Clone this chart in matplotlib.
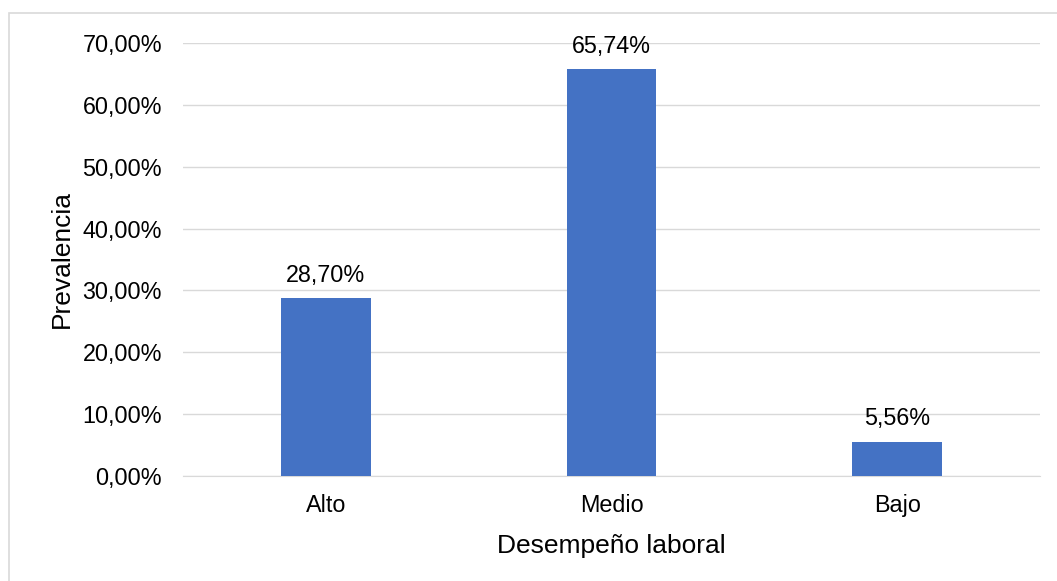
import matplotlib
matplotlib.use("Agg")
import matplotlib.pyplot as plt
from matplotlib.patches import Rectangle

categories = ["Alto", "Medio", "Bajo"]
values = [28.70, 65.74, 5.56]
labels = ["28,70%", "65,74%", "5,56%"]

plt.rcParams['font.family'] = ['Liberation Sans', 'DejaVu Sans']

W, H = 1057, 581
fig = plt.figure(figsize=(W/100, H/100), dpi=100)
fig.patches.append(Rectangle((9/W, -0.1), 1.2, 1 - 13/H + 0.1, transform=fig.transFigure,
                             fill=False, edgecolor='#d9d9d9', linewidth=1.2))

left, right, top, bottom = 183, 1040, 43, 476
ax = fig.add_axes([left/W, 1 - bottom/H, (right-left)/W, (bottom-top)/H])
x = range(len(categories))
ax.bar(x, values, width=0.315, color='#4472c4', zorder=3)
for xi, v, lab in zip(x, values, labels):
    ax.text(xi, v + 1.9, lab, ha='center', va='bottom', fontsize=16.8, color='#000000')

ax.set_xlim(-0.5, 2.5)
ax.set_ylim(0, 70)
ticks = [0, 10, 20, 30, 40, 50, 60, 70]
ax.set_yticks(ticks)
ax.set_yticklabels([f"{t},00%" for t in ticks], fontsize=16.8)
ax.set_xticks(list(x))
ax.set_xticklabels(categories, fontsize=16.8)
ax.grid(axis='y', color='#d9d9d9', linewidth=1, zorder=0)
ax.tick_params(length=0)
ax.tick_params(axis='y', pad=15)
ax.tick_params(axis='x', pad=13)
for s in ['top', 'right', 'left']:
    ax.spines[s].set_visible(False)
ax.spines['bottom'].set_color('#d9d9d9')
ax.set_xlabel("Desempeño laboral", fontsize=19, labelpad=12)
ax.set_ylabel("Prevalencia", fontsize=19, labelpad=6)

fig.savefig("out.png", dpi=100)
